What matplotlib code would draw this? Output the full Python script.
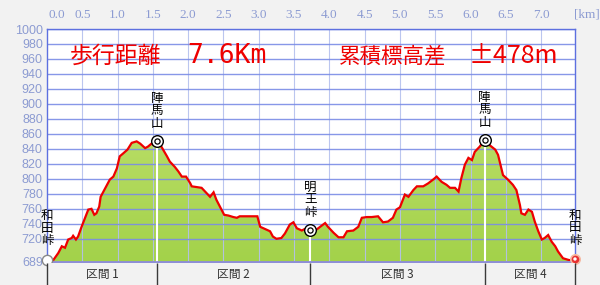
import matplotlib
matplotlib.use('Agg')
import matplotlib.pyplot as plt
import numpy as np
from matplotlib.colors import LinearSegmentedColormap
from matplotlib.patches import Polygon
from matplotlib.transforms import blended_transform_factory, offset_copy

# ---------------- data ----------------
dist_km = [0.00, 0.085, 0.16, 0.21, 0.255, 0.30, 0.35, 0.37, 0.41, 0.44, 0.49, 0.54, 0.585, 0.63,
           0.67, 0.70, 0.74, 0.76, 0.80, 0.84, 0.89, 0.94, 0.99, 1.03, 1.08, 1.14, 1.20, 1.27,
           1.32, 1.39, 1.43, 1.48, 1.53, 1.56, 1.62, 1.70, 1.74, 1.81, 1.86, 1.91, 1.97, 2.03,
           2.05, 2.12, 2.19, 2.26, 2.31, 2.36, 2.40, 2.45, 2.51, 2.57, 2.64, 2.69, 2.73, 2.80,
           2.98, 3.02, 3.09, 3.16, 3.20, 3.25, 3.32, 3.37, 3.44, 3.49, 3.54, 3.61, 3.65, 3.73,
           3.80, 3.87, 3.94, 3.98, 4.06, 4.13, 4.20, 4.25, 4.34, 4.41, 4.46, 4.53, 4.60, 4.69,
           4.76, 4.83, 4.90, 4.95, 5.00, 5.07, 5.12, 5.19, 5.24, 5.33, 5.40, 5.47, 5.52, 5.54,
           5.59, 5.66, 5.71, 5.78, 5.83, 5.87, 5.92, 5.97, 6.02, 6.06, 6.13, 6.20, 6.27, 6.35,
           6.39, 6.46, 6.53, 6.60, 6.65, 6.70, 6.72, 6.77, 6.82, 6.87, 6.91, 6.96, 7.01, 7.05,
           7.10, 7.15, 7.20, 7.24, 7.31, 7.38, 7.43, 7.48]
elev_m = [690, 691, 701, 710, 708, 719, 721, 724, 719, 723, 736, 748, 759, 760,
          752, 754, 763, 776, 783, 790, 799, 803, 814, 830, 834, 839, 848, 850,
          847, 841, 843, 847, 844, 849, 843, 830, 823, 816, 810, 803, 803, 794,
          790, 789, 788, 781, 776, 782, 772, 763, 752, 751, 749, 748, 750, 750,
          750, 736, 733, 730, 723, 720, 721, 727, 739, 742, 734, 731, 733, 731,
          731, 736, 741, 736, 728, 722, 722, 730, 731, 736, 748, 749, 749, 750,
          742, 743, 748, 759, 762, 779, 776, 785, 790, 790, 794, 799, 803, 801,
          796, 792, 788, 788, 783, 801, 819, 828, 825, 836, 843, 852, 845, 839,
          832, 805, 799, 792, 785, 765, 754, 752, 759, 756, 743, 730, 719, 721,
          725, 716, 710, 703, 694, 692, 691, 693]

section_km = [0.0, 1.56, 3.73, 6.20, 7.48]
section_labels = ['区間 1', '区間 2', '区間 3', '区間 4']

peak_names = ['陣\n馬\n山', '明\n王\n峠', '陣\n馬\n山']
peak_km = [1.56, 3.73, 6.20]
peak_elev = [851, 732, 852]

end_names = ['和\n田\n峠', '和\n田\n峠']
end_km = [0.0, 7.48]
end_elev = [692, 693]

x_ticks = [0.5, 1.0, 1.5, 2.0, 2.5, 3.0, 3.5, 4.0, 4.5, 5.0, 5.5, 6.0, 6.5, 7.0]
x_tick_labels = ['0.5', '1.0', '1.5', '2.0', '2.5', '3.0', '3.5', '4.0', '4.5', '5.0',
                 '5.5', '6.0', '6.5', '7.0']
y_ticks = [689, 720, 740, 760, 780, 800, 820, 840, 860, 880, 900, 920, 940, 960, 980, 1000]
y_tick_labels = ['689', '720', '740', '760', '780', '800', '820', '840', '860', '880',
                 '900', '920', '940', '960', '980', '1000']

title_dist_label = '歩行距離'
title_dist_value = '7.6Km'
title_gain_label = '累積標高差'
title_gain_value = '±478m'

# ---------------- figure ----------------
JP = ['Noto Sans CJK JP', 'DejaVu Sans']
BG = '#f2f2f2'
TICK_C = '#8c9bd2'

fig = plt.figure(figsize=(6, 2.85), dpi=100, facecolor=BG)
W, H = 600, 285
ax = fig.add_axes([47 / W, 1 - 262 / H, 528 / W, 233 / H])
ax.set_facecolor('white')
x0, x1 = 0.0, 7.48
y0, y1 = 689, 1000
ax.set_xlim(x0, x1)
ax.set_ylim(y0, y1)
ax.set_axisbelow('line')

# gradient fill under the profile
cmap = LinearSegmentedColormap.from_list('g', ['#a3d24a', '#c9e67a'])
grad = np.linspace(0, 1, 256).reshape(-1, 1)
im = ax.imshow(grad, extent=[x0, x1, y0, y1], origin='lower', aspect='auto',
               cmap=cmap, zorder=1, interpolation='bilinear')
poly_xy = np.column_stack([dist_km + [dist_km[-1], dist_km[0]],
                           elev_m + [y0, y0]])
patch = Polygon(poly_xy, closed=True, facecolor='none', edgecolor='none')
ax.add_patch(patch)
im.set_clip_path(patch)

# grid
ax.set_xticks(x_ticks)
ax.set_xticklabels(x_tick_labels)
ax.set_yticks(y_ticks)
ax.set_yticklabels(y_tick_labels)
ax.xaxis.tick_top()
ax.tick_params(axis='x', length=0, pad=6, labelsize=9.5, labelcolor=TICK_C)
ax.tick_params(axis='y', length=0, pad=3, labelsize=9, labelcolor=TICK_C)
for lab in ax.get_xticklabels():
    lab.set_fontfamily('Liberation Serif')
for lab in ax.get_yticklabels():
    lab.set_fontfamily('Liberation Sans')
ax.grid(axis='y', color='#7a8ce6', lw=1.0, alpha=0.9)
ax.grid(axis='x', color='#b4c0ee', lw=0.8, alpha=0.9)

# "0.0" and "[km]" labels at the top
tb = blended_transform_factory(ax.transData, ax.transAxes)
tb_off = offset_copy(tb, fig=fig, y=6, units='points')
ax.text(0.14, 1.0, '0.0', transform=tb_off, ha='center', va='bottom', fontsize=9.5,
        color=TICK_C, family='Liberation Serif', clip_on=False)
ax.text(x1 + 0.17, 1.0, '[km]', transform=tb_off, ha='center', va='bottom', fontsize=9.5,
        color=TICK_C, family='Liberation Serif', clip_on=False)

# spines
for s in ['top', 'left', 'right']:
    ax.spines[s].set_color('#5d70e0')
    ax.spines[s].set_linewidth(1.0)
ax.spines['bottom'].set_color('#8e8ed8')
ax.spines['bottom'].set_linewidth(2.0)

# white section lines from summit markers down
ax.vlines(peak_km, y0, peak_elev, colors='white', lw=1.5, zorder=1.8)

# profile line
ax.plot(dist_km, elev_m, color='#ee0000', lw=1.6, zorder=2.2, solid_joinstyle='miter')

# summit markers (double circles)
ax.scatter(peak_km, peak_elev, s=70, facecolor='white', edgecolor='black', lw=1.0, zorder=4)
ax.scatter(peak_km, peak_elev, s=14, facecolor='white', edgecolor='black', lw=0.9, zorder=5)
for name, k, e in zip(peak_names, peak_km, peak_elev):
    ax.annotate(name, (k, e), xytext=(0, 8), textcoords='offset points', ha='center',
                va='bottom', fontsize=9, family=JP, linespacing=0.95, zorder=6)

# start / end markers
ax.scatter([end_km[0]], [end_elev[0]], s=55, facecolor='white', edgecolor='#888888',
           lw=1.0, zorder=4, clip_on=False)
ax.scatter([end_km[1]], [end_elev[1]], s=45, facecolor='#e83030', edgecolor='#f5b8a0',
           lw=1.2, zorder=4, clip_on=False)
ax.scatter([end_km[1]], [end_elev[1]], s=6, facecolor='white', edgecolor='none',
           zorder=5, clip_on=False)
for name, k, e in zip(end_names, end_km, end_elev):
    ax.annotate(name, (k, e), xytext=(0, 9), textcoords='offset points', ha='center',
                va='bottom', fontsize=9, family=JP, linespacing=0.95, zorder=6,
                annotation_clip=False)

# titles
fig.text(70 / W, 1 - 56 / H, title_dist_label, color='#ee0000', fontsize=16.5, family=JP,
         ha='left', va='center')
fig.text(187 / W, 1 - 56 / H, title_dist_value, color='#ee0000', fontsize=19,
         family='DejaVu Sans Mono', ha='left', va='center')
fig.text(339 / W, 1 - 56 / H, title_gain_label, color='#ee0000', fontsize=15.5, family=JP,
         ha='left', va='center')
fig.text(469 / W, 1 - 56 / H, title_gain_value, color='#ee0000', fontsize=18, family=JP,
         ha='left', va='center')

# section strip
ax2 = fig.add_axes([47 / W, 0, 528 / W, 22 / H])
ax2.set_xlim(x0, x1)
ax2.set_ylim(0, 1)
ax2.set_facecolor(BG)
for s in ax2.spines.values():
    s.set_visible(False)
ax2.set_xticks([])
ax2.set_yticks([])
ax2.vlines(section_km, 0, 1, colors='#3a3a3a', lw=1.0, clip_on=False)
for i, lab in enumerate(section_labels):
    mid = (section_km[i] + section_km[i + 1]) / 2
    ax2.text(mid, 0.48, lab, ha='center', va='center', fontsize=8.5, family=JP,
             color='#333333')

fig.savefig('out.png', dpi=100, facecolor=BG)
